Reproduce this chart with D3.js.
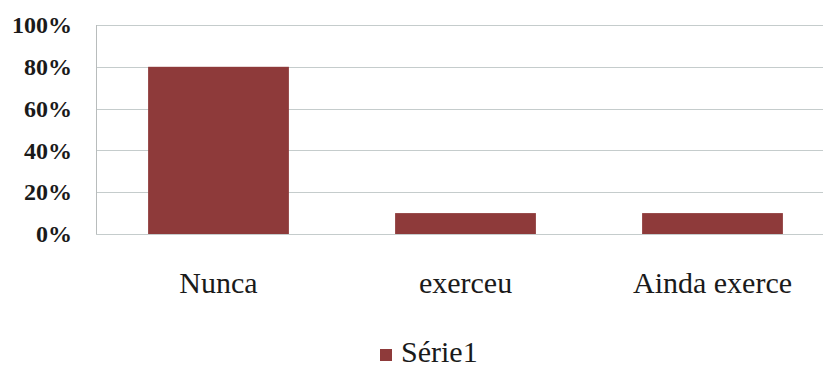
<!DOCTYPE html>
<html><head><meta charset="utf-8">
<script src="https://cdn.jsdelivr.net/npm/d3@7"></script>
<style>body{margin:0;background:#fff}svg{display:block}</style>
</head><body>
<script>
const categories = ["Nunca", "exerceu", "Ainda exerce"];
const values = [0.80, 0.10, 0.10];
const yTicks = [0, 0.2, 0.4, 0.6, 0.8, 1.0];
const seriesName = "Série1";

const W = 823, H = 369;
const svg = d3.select("body").append("svg").attr("width", W).attr("height", H);

const x = d3.scaleBand().domain(categories).range([95, 836]).paddingInner(0.43).paddingOuter(0.215);
const y = d3.scaleLinear().domain([0, 1]).range([234, 25]);
const fmt = d3.format(".0%");

// gridlines
svg.append("g").selectAll("line").data(yTicks).join("line")
  .attr("x1", 96).attr("x2", W)
  .attr("y1", d => Math.round(y(d)) + 0.5).attr("y2", d => Math.round(y(d)) + 0.5)
  .attr("stroke", "#c5cccc").attr("stroke-width", 1);

// left axis line
svg.append("line").attr("x1", 96.5).attr("x2", 96.5).attr("y1", y(1)).attr("y2", y(0))
  .attr("stroke", "#b8bcbc");

// y labels
const yAxis = d3.axisLeft(y).tickValues(yTicks).tickFormat(fmt).tickSize(0).tickPadding(24);
const ga = svg.append("g").attr("transform", "translate(96,0)").call(yAxis);
ga.select(".domain").remove();
ga.selectAll("text").attr("font-family", "'Liberation Serif', serif").attr("font-weight", "bold")
  .attr("font-size", 24).attr("fill", "#1a1a1a");

// bars
svg.append("g").selectAll("rect").data(values).join("rect")
  .attr("x", (d, i) => x(categories[i])).attr("width", x.bandwidth())
  .attr("y", d => y(d)).attr("height", d => y(0) - y(d))
  .attr("fill", "#8e3a3a");

// x labels
const xAxis = d3.axisBottom(x).tickSize(0).tickPadding(40);
const gx = svg.append("g").attr("transform", "translate(0,234)").call(xAxis);
gx.select(".domain").remove();
gx.selectAll("text").attr("font-family", "'Liberation Serif', serif").attr("font-size", 30)
  .attr("fill", "#1a1a1a").attr("dy", 0).attr("y", 59);

// legend
const lg = svg.append("g");
lg.append("rect").attr("x", 380).attr("y", 349).attr("width", 12).attr("height", 12).attr("fill", "#8e3a3a");
lg.append("text").attr("x", 401).attr("y", 362).text(seriesName)
  .attr("font-family", "'Liberation Serif', serif").attr("font-size", 30).attr("fill", "#1a1a1a");
</script>
</body></html>
